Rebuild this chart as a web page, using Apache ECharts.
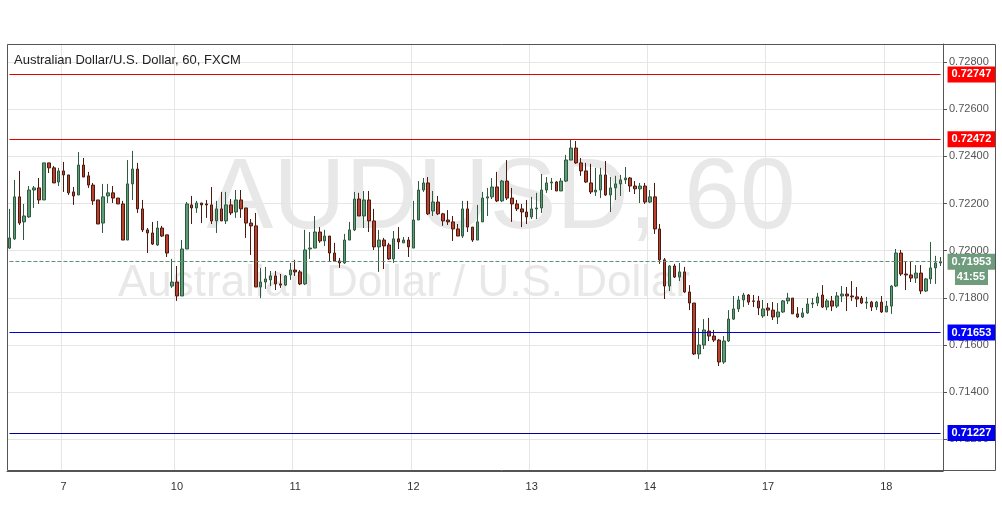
<!DOCTYPE html>
<html>
<head>
<meta charset="utf-8">
<script src="https://cdn.jsdelivr.net/npm/echarts@6/dist/echarts.min.js"></script>
<style>
  html, body { margin: 0; padding: 0; background: #fff; }
  #chart { width: 1002px; height: 508px; }
</style>
</head>
<body>
<div id="chart"></div>
<script>
// hourly candles [open, close, low, high]
let candles = [
  [0.72011,0.72054,0.72007,0.72177],[0.72050,0.72228,0.72045,0.72300],[0.72228,0.72117,0.72109,0.72338],
  [0.72122,0.72147,0.72045,0.72198],[0.72143,0.72257,0.72139,0.72274],[0.72257,0.72266,0.72181,0.72274],
  [0.72266,0.72215,0.72198,0.72308],[0.72215,0.72372,0.72215,0.72372],[0.72372,0.72351,0.72329,0.72372],
  [0.72351,0.72287,0.72287,0.72359],[0.72291,0.72338,0.72274,0.72351],[0.72338,0.72321,0.72249,0.72376],
  [0.72321,0.72245,0.72236,0.72321],[0.72249,0.72232,0.72194,0.72270],[0.72236,0.72363,0.72236,0.72418],
  [0.72363,0.72312,0.72312,0.72393],[0.72317,0.72278,0.72266,0.72334],[0.72278,0.72211,0.72194,0.72287],
  [0.72215,0.72113,0.72113,0.72215],[0.72117,0.72228,0.72075,0.72283],[0.72232,0.72245,0.72202,0.72283],
  [0.72245,0.72223,0.72202,0.72274],[0.72223,0.72198,0.72198,0.72223],[0.72198,0.72045,0.72045,0.72211],
  [0.72045,0.72283,0.72045,0.72384],[0.72283,0.72346,0.72215,0.72423],[0.72346,0.72177,0.72160,0.72372],
  [0.72177,0.72088,0.72079,0.72215],[0.72088,0.72075,0.71990,0.72096],[0.72075,0.72028,0.72024,0.72122],
  [0.72024,0.72096,0.72020,0.72126],[0.72096,0.72062,0.72058,0.72105],[0.72067,0.71990,0.71973,0.72067],
  [0.71850,0.71867,0.71842,0.71965],[0.71867,0.71808,0.71787,0.71935],[0.71808,0.72007,0.71808,0.72045],
  [0.72007,0.72198,0.72007,0.72206],[0.72194,0.72181,0.72113,0.72232],[0.72181,0.72202,0.72160,0.72211],
  [0.72202,0.72194,0.72117,0.72202],[0.72198,0.72194,0.72139,0.72215],[0.72194,0.72126,0.72113,0.72270],
  [0.72126,0.72177,0.72075,0.72211],[0.72177,0.72126,0.72126,0.72249],[0.72126,0.72194,0.72113,0.72249],
  [0.72194,0.72160,0.72151,0.72219],[0.72164,0.72215,0.72139,0.72257],[0.72215,0.72177,0.72139,0.72257],
  [0.72181,0.72117,0.72054,0.72181],[0.72117,0.72105,0.71982,0.72134],[0.72105,0.71846,0.71846,0.72160],
  [0.71846,0.71867,0.71799,0.71927],[0.71867,0.71880,0.71838,0.71931],[0.71876,0.71893,0.71850,0.71914],
  [0.71893,0.71859,0.71833,0.71914],[0.71859,0.71854,0.71842,0.71901],[0.71854,0.71893,0.71850,0.71897],
  [0.71897,0.71918,0.71876,0.71948],[0.71918,0.71910,0.71893,0.71961],[0.71910,0.71859,0.71854,0.71918],
  [0.71859,0.72003,0.71854,0.72088],[0.72007,0.72011,0.71965,0.72079],[0.72011,0.72079,0.72011,0.72147],
  [0.72079,0.72041,0.72033,0.72100],[0.72041,0.72062,0.72020,0.72088],[0.72062,0.71990,0.71956,0.72062],
  [0.71990,0.71956,0.71952,0.72033],[0.71956,0.71948,0.71927,0.71969],[0.71948,0.72045,0.71944,0.72071],
  [0.72045,0.72088,0.72045,0.72122],[0.72088,0.72219,0.72083,0.72249],[0.72219,0.72147,0.72147,0.72245],
  [0.72147,0.72215,0.72096,0.72253],[0.72215,0.72126,0.72079,0.72253],[0.72126,0.72016,0.72003,0.72177],
  [0.72016,0.72045,0.71910,0.72088],[0.72045,0.72020,0.71922,0.72054],[0.72024,0.71965,0.71961,0.72033],
  [0.71965,0.72050,0.71948,0.72083],[0.72050,0.72037,0.72007,0.72100],[0.72033,0.72045,0.72033,0.72058],
  [0.72045,0.72016,0.71973,0.72058],[0.72011,0.72130,0.72011,0.72211],[0.72130,0.72257,0.72130,0.72295],
  [0.72257,0.72287,0.72249,0.72308],[0.72287,0.72156,0.72151,0.72312],[0.72168,0.72206,0.72147,0.72253],
  [0.72206,0.72156,0.72151,0.72232],[0.72156,0.72126,0.72105,0.72160],[0.72130,0.72122,0.72109,0.72172],
  [0.72122,0.72092,0.72041,0.72147],[0.72092,0.72062,0.72062,0.72113],[0.72062,0.72177,0.72054,0.72211],
  [0.72177,0.72100,0.72079,0.72211],[0.72100,0.72045,0.72037,0.72100],[0.72045,0.72122,0.72045,0.72194],
  [0.72122,0.72223,0.72122,0.72249],[0.72223,0.72228,0.72147,0.72266],[0.72228,0.72270,0.72219,0.72308],
  [0.72270,0.72211,0.72206,0.72334],[0.72211,0.72295,0.72206,0.72300],[0.72295,0.72223,0.72215,0.72384],
  [0.72223,0.72198,0.72122,0.72266],[0.72198,0.72177,0.72168,0.72215],[0.72177,0.72164,0.72100,0.72198],
  [0.72164,0.72143,0.72113,0.72215],[0.72143,0.72177,0.72134,0.72228],[0.72177,0.72181,0.72134,0.72245],
  [0.72181,0.72257,0.72160,0.72325],[0.72257,0.72287,0.72245,0.72312],[0.72287,0.72291,0.72257,0.72308],
  [0.72291,0.72253,0.72253,0.72295],[0.72253,0.72295,0.72253,0.72308],[0.72295,0.72384,0.72291,0.72406],
  [0.72384,0.72435,0.72384,0.72469],[0.72435,0.72372,0.72368,0.72465],[0.72372,0.72338,0.72317,0.72393],
  [0.72338,0.72291,0.72287,0.72372],[0.72287,0.72249,0.72240,0.72368],[0.72249,0.72257,0.72232,0.72351],
  [0.72257,0.72321,0.72223,0.72351],[0.72321,0.72236,0.72232,0.72380],[0.72236,0.72266,0.72164,0.72312],
  [0.72266,0.72283,0.72215,0.72317],[0.72283,0.72300,0.72232,0.72321],[0.72300,0.72308,0.72283,0.72355],
  [0.72308,0.72274,0.72249,0.72312],[0.72274,0.72262,0.72240,0.72295],[0.72262,0.72274,0.72202,0.72287],
  [0.72274,0.72206,0.72198,0.72287],[0.72206,0.72228,0.72202,0.72257],[0.72228,0.72092,0.72071,0.72287],
  [0.72092,0.71961,0.71944,0.72113],[0.71961,0.71850,0.71795,0.71969],[0.71850,0.71935,0.71829,0.71939],
  [0.71935,0.71888,0.71884,0.71944],[0.71888,0.71910,0.71871,0.71948],[0.71910,0.71825,0.71821,0.71931],
  [0.71825,0.71778,0.71748,0.71854],[0.71778,0.71562,0.71558,0.71778],[0.71562,0.71600,0.71541,0.71672],
  [0.71600,0.71664,0.71583,0.71710],[0.71659,0.71638,0.71617,0.71715],[0.71638,0.71621,0.71613,0.71664],
  [0.71621,0.71528,0.71511,0.71626],[0.71528,0.71617,0.71520,0.71638],[0.71617,0.71710,0.71613,0.71748],
  [0.71710,0.71753,0.71706,0.71808],[0.71753,0.71791,0.71740,0.71808],[0.71791,0.71812,0.71761,0.71821],
  [0.71812,0.71782,0.71770,0.71816],[0.71787,0.71785,0.71761,0.71812],[0.71787,0.71757,0.71727,0.71808],
  [0.71723,0.71753,0.71715,0.71791],[0.71757,0.71748,0.71723,0.71778],[0.71748,0.71719,0.71706,0.71782],
  [0.71719,0.71740,0.71689,0.71778],[0.71740,0.71787,0.71736,0.71791],[0.71787,0.71799,0.71774,0.71821],
  [0.71799,0.71732,0.71732,0.71799],[0.71732,0.71719,0.71715,0.71761],[0.71719,0.71736,0.71715,0.71757],
  [0.71736,0.71774,0.71732,0.71799],[0.71774,0.71778,0.71757,0.71799],[0.71778,0.71804,0.71765,0.71821],
  [0.71812,0.71761,0.71757,0.71854],[0.71761,0.71787,0.71748,0.71795],[0.71787,0.71765,0.71744,0.71808],
  [0.71765,0.71808,0.71757,0.71825],[0.71808,0.71816,0.71782,0.71850],[0.71816,0.71808,0.71744,0.71846],
  [0.71808,0.71804,0.71787,0.71871],[0.71804,0.71795,0.71761,0.71846],[0.71799,0.71778,0.71774,0.71808],
  [0.71778,0.71782,0.71753,0.71804],[0.71782,0.71761,0.71744,0.71787],[0.71761,0.71782,0.71748,0.71787],
  [0.71782,0.71740,0.71736,0.71808],[0.71740,0.71765,0.71740,0.71787],[0.71765,0.71850,0.71732,0.71854],
  [0.71850,0.71990,0.71846,0.72007],[0.71990,0.71901,0.71893,0.72003],[0.71901,0.71897,0.71833,0.71952],
  [0.71897,0.71884,0.71867,0.71952],[0.71884,0.71905,0.71863,0.71939],[0.71905,0.71829,0.71816,0.71939],
  [0.71829,0.71880,0.71825,0.71884],[0.71880,0.71927,0.71859,0.72037],[0.71927,0.71948,0.71859,0.71978],
  [0.71948,0.71953,0.71935,0.71973]
];

// x label: candle index -> day of month
let dayIndex = [11, 34, 58, 82, 106, 130, 154, 178];
let dayLabels = ['7', '10', '11', '12', '13', '14', '17', '18'];

let redLevels = [0.72747, 0.72472];
let blueLevels = [0.71653, 0.71227];
let lastPrice = 0.71953;
let countdown = '41:55';

let categories = candles.map((c, i) => i);
let lastIdx = candles.length - 1;

// one horizontal level as a markLine pair
function levelLine(v, color, dashed, boxColor) {
    return [
        {coord: [0, v], lineStyle: {color: color, type: dashed ? 'dashed' : 'solid', width: 1}},
        {coord: [lastIdx, v],
         label: {
            show: true, position: 'end', formatter: v.toFixed(5), color: '#fff', fontWeight: 'bold',
            fontSize: 11, backgroundColor: boxColor || color, padding: [3, 4, 2, 4], distance: 7,
            fontFamily: 'Arial, Liberation Sans'
         }}
    ];
}

let chart = echarts.init(document.getElementById('chart'));

let markData = [];
redLevels.forEach(v => markData.push(levelLine(v, '#e00000', false, '#ff0000')));
markData.push(levelLine(blueLevels[0], '#0000e0', false, '#0000ff'));
markData.push(levelLine(blueLevels[1], '#000099', false, '#0000ee'));
markData.push(levelLine(lastPrice, '#5f9078', true, '#6f9c7d'));

let option = {
    animation: false,
    backgroundColor: '#fff',
    grid: {left: 7, right: 59, top: 44, bottom: 37},
    xAxis: {
        type: 'category',
        data: categories,
        boundaryGap: true,
        axisLine: {lineStyle: {color: '#555'}},
        axisTick: {show: false},
        axisLabel: {
            interval: (i) => dayIndex.indexOf(i) >= 0,
            formatter: (v, i) => dayLabels[dayIndex.indexOf(i)],
            color: '#333', fontSize: 11, margin: 10, fontFamily: 'Arial, Liberation Sans'
        },
        splitLine: {show: true, interval: (i) => dayIndex.indexOf(i) >= 0, lineStyle: {color: '#e6e6e6'}}
    },
    yAxis: {
        type: 'value',
        position: 'right',
        min: 0.71066,
        max: 0.72876,
        splitNumber: 9,
        axisLine: {show: true, lineStyle: {color: '#555'}},
        axisTick: {show: true, length: 4, lineStyle: {color: '#555'}},
        axisLabel: {
            showMinLabel: false, showMaxLabel: false,
            formatter: (v) => v.toFixed(5), color: '#555', fontSize: 11, margin: 6,
            fontFamily: 'Arial, Liberation Sans'
        },
        splitLine: {lineStyle: {color: '#e6e6e6'}}
    },
    graphic: [
        {type: 'text', left: 'center', top: 150, z: -10, silent: true,
         style: {text: 'AUDUSD, 60', fontSize: 100, fill: '#e8e8e8', fontFamily: 'Arial, Liberation Sans'}},
        {type: 'text', left: 118, top: 262, z: -10, silent: true,
         style: {text: 'Australian Dollar / U.S. Dollar', fontSize: 44, fill: '#e8e8e8', fontFamily: 'Arial, Liberation Sans'}},
        {type: 'text', left: 14, top: 54, z: 10,
         style: {text: 'Australian Dollar/U.S. Dollar, 60, FXCM', fontSize: 13, fill: '#222', fontFamily: 'Arial, Liberation Sans'}},
        {type: 'rect', shape: {x: 7.5, y: 44.5, width: 988, height: 426}, z: 20, silent: true,
         style: {fill: 'none', stroke: '#555', lineWidth: 1}},
        {type: 'rect', shape: {x: 955, y: 268, width: 33, height: 17}, z: 30,
         style: {fill: '#6f9c7d'}},
        {type: 'text', x: 985, y: 271, z: 31,
         style: {text: countdown, fill: '#fff', fontSize: 11, fontWeight: 'bold', align: 'right', fontFamily: 'Arial, Liberation Sans'}}
    ],
    series: [{
        type: 'candlestick',
        data: candles,
        barWidth: 3,
        itemStyle: {
            color: '#5c9d78', color0: '#b8412f',
            borderColor: '#2f5a3f', borderColor0: '#4d1a10', borderWidth: 1
        },
        markLine: {
            symbol: 'none',
            silent: true,
            animation: false,
            data: markData
        }
    }]
};

chart.setOption(option);
</script>
</body>
</html>
